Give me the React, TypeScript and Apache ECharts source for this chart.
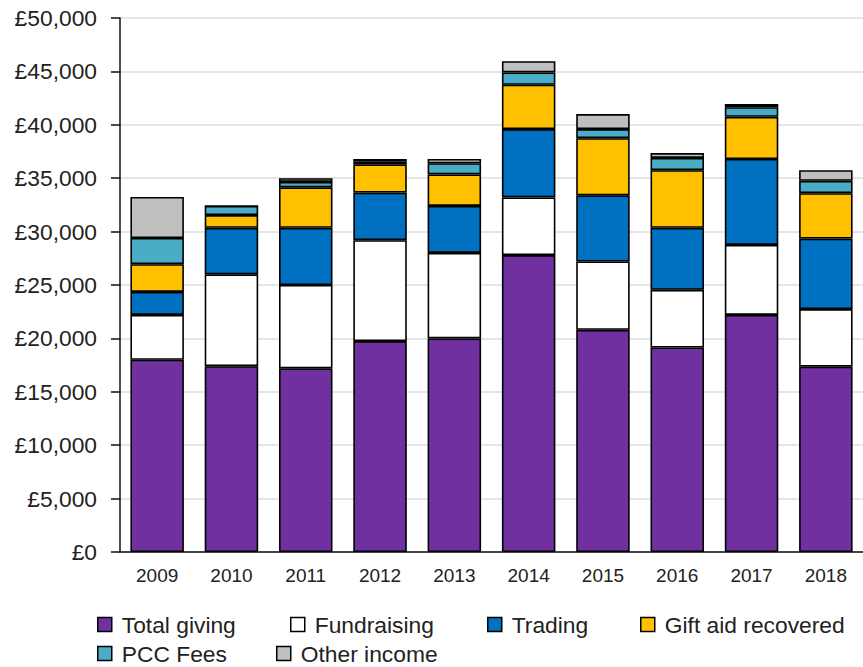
import React, { useEffect, useRef } from "react";
import * as echarts from "echarts";

const categories = ["2009", "2010", "2011", "2012", "2013", "2014", "2015", "2016", "2017", "2018"];
const totalGiving = [18000, 17400, 17200, 19750, 20000, 27800, 20800, 19150, 22200, 17350];
const fundraising = [4200, 8600, 7800, 9450, 8000, 5400, 6400, 5400, 6550, 5400];
const trading = [2150, 4350, 5350, 4450, 4400, 6400, 6200, 5800, 8050, 6600];
const giftAid = [2600, 1200, 3800, 2650, 2950, 4150, 5350, 5400, 3950, 4250];
const pccFees = [2450, 850, 500, 250, 1050, 1150, 850, 1150, 900, 1150];
const otherIncome = [3850, 0, 350, 250, 400, 1050, 1400, 450, 300, 1000];

const seriesDefs = [
  { name: "Total giving", data: totalGiving, color: "#7030A0" },
  { name: "Fundraising", data: fundraising, color: "#FFFFFF" },
  { name: "Trading", data: trading, color: "#0070C0" },
  { name: "Gift aid recovered", data: giftAid, color: "#FFC000" },
  { name: "PCC Fees", data: pccFees, color: "#4BACC6" },
  { name: "Other income", data: otherIncome, color: "#BFBFBF" },
];

const legendPos = [
  { left: 97, top: 613 },
  { left: 290, top: 613 },
  { left: 487, top: 613 },
  { left: 640, top: 613 },
  { left: 97, top: 642 },
  { left: 276, top: 642 },
];

const FONT = "'Liberation Sans', Arial, sans-serif";

export default function App() {
  const ref = useRef<HTMLDivElement>(null);
  useEffect(() => {
    if (!ref.current) return;
    const chart = echarts.init(ref.current, undefined, { renderer: "svg" });
    chart.setOption({
      animation: false,
      backgroundColor: "#ffffff",
      textStyle: { fontFamily: FONT },
      grid: { left: 120, top: 18, width: 748, height: 534, containLabel: false },
      legend: seriesDefs.map((s, i) => ({
        data: [{ name: s.name, icon: "rect" }],
        left: legendPos[i].left - 5,
        top: legendPos[i].top - 5,
        itemWidth: 14,
        itemHeight: 14,
        selectedMode: false,
        itemStyle: { borderColor: "#000", borderWidth: 1.5 },
        textStyle: {
          fontFamily: FONT,
          fontSize: 22.8,
          color: "#222",
          lineHeight: 22,
          padding: [0, 0, 0, 5],
        },
      })),
      xAxis: {
        type: "category",
        data: categories,
        axisLine: { lineStyle: { color: "#111", width: 1.5 } },
        axisTick: { alignWithLabel: true, length: 9, lineStyle: { color: "#111", width: 1.5 } },
        axisLabel: { fontSize: 19, color: "#222", margin: 14, fontFamily: FONT },
      },
      yAxis: {
        type: "value",
        min: 0,
        max: 50000,
        interval: 5000,
        axisLine: { show: true, lineStyle: { color: "#111", width: 1.5 } },
        axisTick: { show: true, length: 9, lineStyle: { color: "#111", width: 1.5 } },
        axisLabel: {
          fontSize: 22.8,
          color: "#222",
          margin: 23,
          fontFamily: FONT,
          formatter: (v: number) => "£" + v.toLocaleString("en-GB"),
        },
        splitLine: { lineStyle: { color: "#dcdcdc", width: 1.5 } },
      },
      series: seriesDefs.map((s) => ({
        name: s.name,
        type: "bar",
        stack: "total",
        data: s.data,
        barCategoryGap: "28%",
        itemStyle: { color: s.color, borderColor: "#000", borderWidth: 1.6 },
      })),
    });
    return () => chart.dispose();
  }, []);
  return (
    <div
      ref={ref}
      style={{ position: "fixed", left: 0, top: 0, width: 863, height: 667 }}
    />
  );
}
